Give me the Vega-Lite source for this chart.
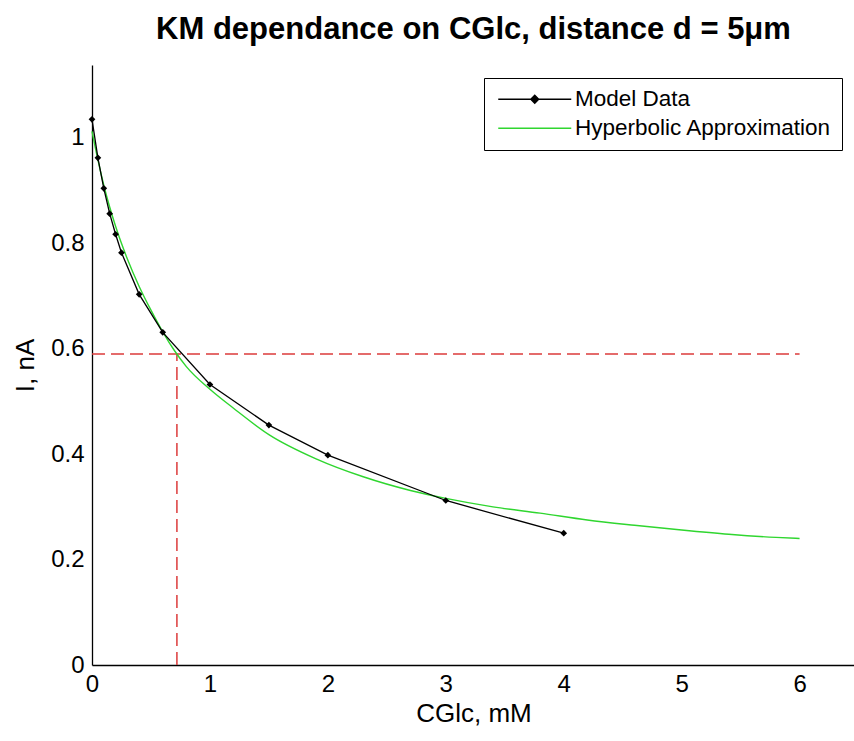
{
  "$schema": "https://vega.github.io/schema/vega-lite/v6.json",
  "width": 763,
  "height": 600,
  "padding": {"left": 12, "top": 14, "right": 0, "bottom": 6},
  "background": "white",
  "title": {"text": "KM dependance on CGlc, distance d = 5μm", "font": "Liberation Sans", "fontSize": 31, "fontWeight": "bold", "color": "black", "offset": 19, "anchor": "middle"},
  "datasets": {
    "curves": [
      {"x": 0, "y": 1.035, "series": "Model Data"},
      {"x": 0.05, "y": 0.962, "series": "Model Data"},
      {"x": 0.1, "y": 0.904, "series": "Model Data"},
      {"x": 0.15, "y": 0.856, "series": "Model Data"},
      {"x": 0.2, "y": 0.817, "series": "Model Data"},
      {"x": 0.25, "y": 0.782, "series": "Model Data"},
      {"x": 0.4, "y": 0.703, "series": "Model Data"},
      {"x": 0.6, "y": 0.631, "series": "Model Data"},
      {"x": 1, "y": 0.532, "series": "Model Data"},
      {"x": 1.5, "y": 0.455, "series": "Model Data"},
      {"x": 2, "y": 0.398, "series": "Model Data"},
      {"x": 3, "y": 0.312, "series": "Model Data"},
      {"x": 4, "y": 0.25, "series": "Model Data"},
      {"x": 0, "y": 1.012, "series": "Hyperbolic Approximation"},
      {"x": 0.05, "y": 0.958, "series": "Hyperbolic Approximation"},
      {"x": 0.1, "y": 0.91, "series": "Hyperbolic Approximation"},
      {"x": 0.2, "y": 0.832, "series": "Hyperbolic Approximation"},
      {"x": 0.3, "y": 0.77, "series": "Hyperbolic Approximation"},
      {"x": 0.4, "y": 0.718, "series": "Hyperbolic Approximation"},
      {"x": 0.5, "y": 0.673, "series": "Hyperbolic Approximation"},
      {"x": 0.6, "y": 0.632, "series": "Hyperbolic Approximation"},
      {"x": 0.7, "y": 0.596, "series": "Hyperbolic Approximation"},
      {"x": 0.8, "y": 0.566, "series": "Hyperbolic Approximation"},
      {"x": 1.0, "y": 0.523, "series": "Hyperbolic Approximation"},
      {"x": 1.2, "y": 0.487, "series": "Hyperbolic Approximation"},
      {"x": 1.5, "y": 0.437, "series": "Hyperbolic Approximation"},
      {"x": 1.9, "y": 0.391, "series": "Hyperbolic Approximation"},
      {"x": 2.3, "y": 0.357, "series": "Hyperbolic Approximation"},
      {"x": 2.7, "y": 0.331, "series": "Hyperbolic Approximation"},
      {"x": 3.0, "y": 0.316, "series": "Hyperbolic Approximation"},
      {"x": 3.4, "y": 0.3, "series": "Hyperbolic Approximation"},
      {"x": 3.8, "y": 0.288, "series": "Hyperbolic Approximation"},
      {"x": 4.2, "y": 0.275, "series": "Hyperbolic Approximation"},
      {"x": 4.6, "y": 0.265, "series": "Hyperbolic Approximation"},
      {"x": 5.0, "y": 0.256, "series": "Hyperbolic Approximation"},
      {"x": 5.4, "y": 0.248, "series": "Hyperbolic Approximation"},
      {"x": 5.8, "y": 0.242, "series": "Hyperbolic Approximation"},
      {"x": 6.0, "y": 0.24, "series": "Hyperbolic Approximation"}
    ],
    "guides": [
      {"x": 0, "x2": 6, "y": 0.59, "y2": 0.59},
      {"x": 0.72, "x2": 0.72, "y": 0, "y2": 0.59}
    ]
  },
  "layer": [
    {
      "data": {"name": "guides"},
      "mark": {"type": "rule", "color": "#dc3b3b", "strokeWidth": 1.5, "strokeDash": [13, 6]},
      "encoding": {
        "x": {"field": "x", "type": "quantitative", "scale": {"domain": [0, 6.47], "nice": false, "zero": false},
          "axis": {"values": [0, 1, 2, 3, 4, 5, 6], "format": "d", "title": "CGlc, mM", "labelFlush": false, "labelOverlap": false,
            "labelPadding": 7, "titlePadding": 4,
            "encode": {"ticks": {"update": {"y2": {"value": -8}}}}}},
        "x2": {"field": "x2"},
        "y": {"field": "y", "type": "quantitative", "scale": {"domain": [0, 1.138], "nice": false, "zero": false},
          "axis": {"values": [0, 0.2, 0.4, 0.6, 0.8, 1], "format": ".1~f", "title": "I, nA", "labelFlush": false, "labelOverlap": false,
            "labelPadding": 8, "titlePadding": 12,
            "encode": {"ticks": {"update": {"x2": {"value": 8}}}}}},
        "y2": {"field": "y2"}
      }
    },
    {
      "data": {"name": "curves"},
      "mark": {"type": "line", "strokeWidth": 1.4, "interpolate": "monotone"},
      "transform": [{"filter": "datum.series === 'Hyperbolic Approximation'"}],
      "encoding": {
        "x": {"field": "x", "type": "quantitative"},
        "y": {"field": "y", "type": "quantitative"},
        "color": {
          "field": "series", "type": "nominal",
          "scale": {"domain": ["Model Data", "Hyperbolic Approximation"], "range": ["black", "#2fd62f"]},
          "legend": {
            "values": ["Model Data", "Hyperbolic Approximation"],
            "title": null, "orient": "none", "legendX": 392, "legendY": 13,
            "strokeColor": "black", "fillColor": "white", "padding": 10,
            "labelFont": "Liberation Sans", "labelFontSize": 22.5, "labelColor": "black", "labelLimit": 400,
            "symbolSize": 100, "symbolStrokeWidth": 1.3, "symbolOffset": 29.5, "labelOffset": 29,
            "rowPadding": 6,
            "encode": {"symbols": {"update": {
              "shape": {"signal": "datum.value === 'Model Data' ? 'M-7.3,0H7.3M0,-0.8L0.8,0L0,0.8L-0.8,0Z' : 'M-7.3,0H7.3'"},
              "fill": {"signal": "datum.value === 'Model Data' ? 'black' : 'transparent'"},
              "opacity": {"value": 1}
            }}}
          }
        }
      }
    },
    {
      "data": {"name": "curves"},
      "transform": [{"filter": "datum.series === 'Model Data'"}],
      "mark": {"type": "line", "strokeWidth": 1.3, "color": "black"},
      "encoding": {
        "x": {"field": "x", "type": "quantitative"},
        "y": {"field": "y", "type": "quantitative"}
      }
    },
    {
      "data": {"name": "curves"},
      "transform": [{"filter": "datum.series === 'Model Data'"}],
      "mark": {"type": "point", "shape": "diamond", "filled": true, "color": "black", "size": 45, "opacity": 1},
      "encoding": {
        "x": {"field": "x", "type": "quantitative"},
        "y": {"field": "y", "type": "quantitative"}
      }
    }
  ],
  "config": {
    "font": "Liberation Sans",
    "view": {"stroke": null},
    "axis": {
      "grid": false, "domainColor": "black", "domainWidth": 1.3,
      "tickColor": "black", "tickWidth": 1.3, "tickSize": 0,
      "labelColor": "black", "labelFont": "Liberation Sans", "labelFontSize": 24,
      "titleFont": "Liberation Sans", "titleFontSize": 26, "titleFontWeight": "normal", "titleColor": "black"
    }
  }
}
